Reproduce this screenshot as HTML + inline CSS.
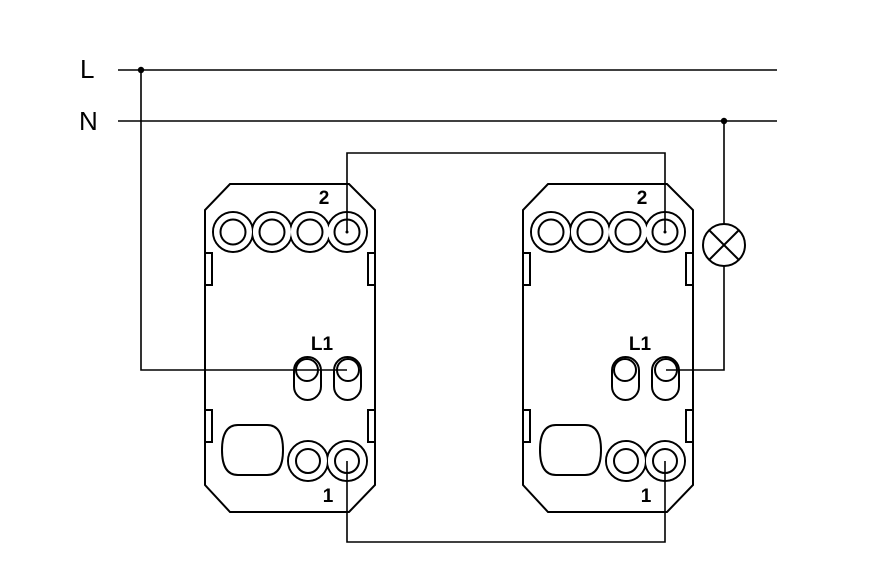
<!DOCTYPE html>
<html><head><style>body{margin:0;background:#fff}svg{display:block}</style></head>
<body>
<svg width="887" height="580" viewBox="0 0 887 580" xmlns="http://www.w3.org/2000/svg">
<defs>
<g id="plate">
  <path d="M230,184 H349 L375,210 V485 L349,512 H230 L205,485 V210 Z" fill="#fff" stroke="#000" stroke-width="2"/>
  <rect x="205" y="253" width="7" height="32" fill="#fff" stroke="#000" stroke-width="2"/>
  <rect x="205" y="410" width="7" height="32" fill="#fff" stroke="#000" stroke-width="2"/>
  <rect x="368" y="253" width="7" height="32" fill="#fff" stroke="#000" stroke-width="2"/>
  <rect x="368" y="410" width="7" height="32" fill="#fff" stroke="#000" stroke-width="2"/>
  <g stroke="#000" stroke-width="2" fill="#fff">
    <circle cx="233" cy="232" r="20"/><circle cx="272" cy="232" r="20"/>
    <circle cx="310" cy="232" r="20"/><circle cx="347" cy="232" r="20"/>
  </g>
  <g fill="#fff">
    <circle cx="233" cy="232" r="19"/><circle cx="272" cy="232" r="19"/>
    <circle cx="310" cy="232" r="19"/><circle cx="347" cy="232" r="19"/>
  </g>
  <g stroke="#000" stroke-width="2" fill="none">
    <circle cx="233" cy="232" r="12.5"/><circle cx="272" cy="232" r="12.5"/>
    <circle cx="310" cy="232" r="12.5"/><circle cx="347" cy="232" r="12.5"/>
    <rect x="294" y="357" width="27" height="43" rx="13.5"/>
    <rect x="334" y="357" width="27" height="43" rx="13.5"/>
    <circle cx="307" cy="370" r="11"/><circle cx="348" cy="370" r="11"/>
    <path d="M238,425 H267 Q283,425 283,450 Q283,475 267,475 H238 Q222,475 222,450 Q222,425 238,425 Z"/>
  </g>
  <g stroke="#000" stroke-width="2" fill="#fff">
    <circle cx="308" cy="461" r="20"/><circle cx="347" cy="461" r="20"/>
  </g>
  <g fill="#fff"><circle cx="308" cy="461" r="19"/><circle cx="347" cy="461" r="19"/></g>
  <g stroke="#000" stroke-width="2" fill="none">
    <circle cx="308" cy="461" r="12"/><circle cx="347" cy="461" r="12"/>
  </g>
  <g font-family="Liberation Sans, sans-serif" font-weight="bold" font-size="19" fill="#000" text-anchor="middle">
    <text x="324" y="204">2</text>
    <text x="322" y="350">L1</text>
    <text x="328" y="502">1</text>
  </g>
</g>
</defs>
<use href="#plate"/>
<use href="#plate" transform="translate(318,0)"/>
<g stroke="#000" stroke-width="1.6" fill="none">
  <line x1="118" y1="70" x2="777" y2="70"/>
  <line x1="118" y1="121" x2="777" y2="121"/>
  <polyline points="141,70 141,370 347,370"/>
  <polyline points="347,232 347,153 665,153 665,232"/>
  <polyline points="347,461 347,542 665,542 665,461"/>
  <polyline points="724,121 724,224"/>
  <polyline points="724,266 724,370 666,370"/>
  <circle cx="724" cy="245" r="21" stroke-width="2"/>
  <line x1="709" y1="230" x2="739" y2="260" stroke-width="2"/>
  <line x1="739" y1="230" x2="709" y2="260" stroke-width="2"/>
</g>
<circle cx="141" cy="70" r="3.2" fill="#000"/>
<circle cx="724" cy="121" r="3.2" fill="#000"/>
<circle cx="347" cy="232" r="1.5" fill="#000"/>
<circle cx="665" cy="232" r="1.5" fill="#000"/>
<g font-family="Liberation Sans, sans-serif" font-size="26" fill="#000">
  <text x="80" y="78">L</text>
  <text x="79" y="130">N</text>
</g>
</svg>
</body></html>
